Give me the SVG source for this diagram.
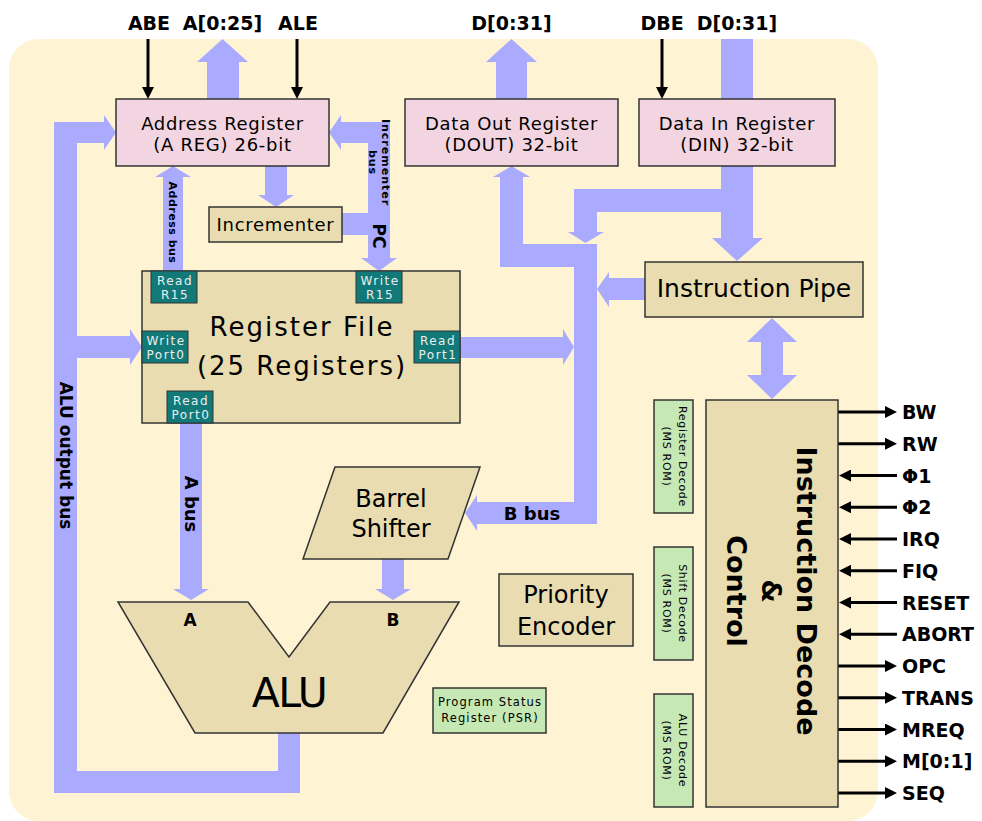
<svg xmlns="http://www.w3.org/2000/svg" width="982" height="821" viewBox="0 0 982 821">
<style>
text{font-family:"DejaVu Sans","Liberation Sans",sans-serif;fill:#000}
.bus{fill:#aaaaff}
.box{stroke:#333;stroke-width:1.5}
.pink{fill:#f3d5e1}
.tan{fill:#e8dcb0}
.green{fill:#c6e8b4}
.teal{fill:#117a78;stroke:#333;stroke-width:1}
.lbl{font-size:18px;letter-spacing:0.7px;text-anchor:middle}
.big{font-size:24px;text-anchor:middle}
.pin{font-size:12px;letter-spacing:1.5px;text-anchor:middle;fill:#eeeeee}
.sig{font-size:19px;font-weight:bold}
.top{font-size:19px;font-weight:bold;text-anchor:middle}
.small{font-size:11px;letter-spacing:0.7px;text-anchor:middle}
.psr{font-size:11.5px;letter-spacing:1.1px;text-anchor:middle}
.busl{font-weight:bold;text-anchor:middle}
.wire{stroke:#000;stroke-width:3;fill:none;marker-end:url(#ah)}
</style>
<defs>
<marker id="ah" viewBox="0 0 12 12" refX="0" refY="6" markerWidth="12" markerHeight="12" markerUnits="userSpaceOnUse" orient="auto">
<path d="M0,0 L12,6 L0,12 z" fill="#000"/>
</marker>
</defs>
<rect x="9" y="39" width="869" height="782" rx="30" fill="#fef4d4"/>

<g id="connectors">
<polygon class="bus" points="207,99 207,62 197,62 222.5,39 248,62 239,62 239,99"/>
<polygon class="bus" points="496,99 496,62 486,62 511.5,39 537,62 527,62 527,99"/>
<rect class="bus" x="721" y="39" width="32" height="60"/>
<polygon class="bus" points="265,166 287,166 287,195 294,195 276,207 258,195 265,195"/>
<polygon class="bus" points="329,132.5 341,115 341,122 390,122 390,258 397,258 379,271 361,258 368,258 368,235 342,235 342,213 368,213 368,143 341,143 341,150"/>
<polygon class="bus" points="163,271 163,177 155,177 173,166 191,177 183,177 183,271"/>
<polygon class="bus" points="116,132.5 104,115 104,122 54,122 54,793 300,793 300,733 278,733 278,771 77,771 77,358 130,358 130,365 142,347 130,329 130,336 77,336 77,143 104,143 104,150"/>
<polygon class="bus" points="180,423 202,423 202,589 209,589 191,600 173,589 180,589"/>
<polygon class="bus" points="382,559 404,559 404,589 411,589 393,600 375,589 382,589"/>
<polygon class="bus" points="511.5,166 530,177 523,177 523,244 597,244 597,524 477,524 477,531 465,513 477,495 477,502 574,502 574,267 500,267 500,177 493,177"/>
<polygon class="bus" points="721,166 753,166 753,238 763,238 737,261 712,238 721,238 721,212 597,212 597,232 604,232 585.5,243 568,232 574,232 574,189 721,189"/>
<polygon class="bus" points="645,278 645,300 609,300 609,307 597,289 609,272 609,278"/>
<polygon class="bus" points="460,337 563,337 563,329 574,347 563,365 563,358 460,358"/>
<polygon class="bus" points="772,318 797,342 783,342 783,375 797,375 772,399 747,375 761,375 761,342 747,342"/>
<line class="wire" x1="148" y1="39" x2="148" y2="87"/>
<line class="wire" x1="297" y1="39" x2="297" y2="87"/>
<line class="wire" x1="662" y1="39" x2="662" y2="87"/>
<line class="wire" x1="838" y1="412" x2="885" y2="412"/>
<line class="wire" x1="838" y1="443.75" x2="885" y2="443.75"/>
<line class="wire" x1="897" y1="475.5" x2="851" y2="475.5"/>
<line class="wire" x1="897" y1="507.25" x2="851" y2="507.25"/>
<line class="wire" x1="897" y1="539" x2="851" y2="539"/>
<line class="wire" x1="897" y1="570.75" x2="851" y2="570.75"/>
<line class="wire" x1="897" y1="602.5" x2="851" y2="602.5"/>
<line class="wire" x1="897" y1="634.25" x2="851" y2="634.25"/>
<line class="wire" x1="838" y1="666" x2="885" y2="666"/>
<line class="wire" x1="838" y1="697.75" x2="885" y2="697.75"/>
<line class="wire" x1="838" y1="729.5" x2="885" y2="729.5"/>
<line class="wire" x1="838" y1="761.25" x2="885" y2="761.25"/>
<line class="wire" x1="838" y1="793" x2="885" y2="793"/>
<text class="busl" font-size="11" letter-spacing="1" transform="translate(382,162.5) rotate(90)">Incrementer</text>
<text class="busl" font-size="11" letter-spacing="1" transform="translate(369,162.5) rotate(90)">bus</text>
<text class="busl" font-size="17" transform="translate(373,236) rotate(90)">PC</text>
<text class="busl" font-size="11" letter-spacing="0.5" transform="translate(168.5,222.5) rotate(90)">Address bus</text>
<text class="busl" font-size="17" transform="translate(59.5,455.5) rotate(90)">ALU output bus</text>
<text class="busl" font-size="18" transform="translate(185,504) rotate(90)">A bus</text>
<text class="busl" font-size="18" x="532" y="520">B bus</text>
</g>

<g id="top-labels">
<text class="top" x="149" y="30">ABE</text>
<text class="top" x="222.5" y="30">A[0:25]</text>
<text class="top" x="298" y="30">ALE</text>
<text class="top" x="511.5" y="30">D[0:31]</text>
<text class="top" x="662" y="30">DBE</text>
<text class="top" x="737" y="30">D[0:31]</text>
</g>

<g id="address-register">
<rect class="box pink" x="116" y="99" width="213" height="67"/>
<text class="lbl" x="222.5" y="130">Address Register</text>
<text class="lbl" x="222.5" y="151">(A REG) 26-bit</text>
</g>

<g id="data-out-register">
<rect class="box pink" x="405" y="99" width="213" height="67"/>
<text class="lbl" x="511.5" y="130">Data Out Register</text>
<text class="lbl" x="511.5" y="151">(DOUT) 32-bit</text>
</g>

<g id="data-in-register">
<rect class="box pink" x="639" y="99" width="196" height="67"/>
<text class="lbl" x="737" y="130">Data In Register</text>
<text class="lbl" x="737" y="151">(DIN) 32-bit</text>
</g>

<g id="incrementer">
<rect class="box tan" x="209" y="207" width="133" height="35"/>
<text class="lbl" x="275.5" y="231">Incrementer</text>
</g>

<g id="instruction-pipe">
<rect class="box tan" x="645" y="262" width="218" height="55"/>
<text font-size="25" text-anchor="middle" x="754" y="297">Instruction Pipe</text>
</g>

<g id="register-file">
<rect class="box tan" x="142" y="271" width="318" height="152"/>
<text font-size="26" letter-spacing="2" text-anchor="middle" x="302" y="336">Register File</text>
<text font-size="26" letter-spacing="2" text-anchor="middle" x="302" y="375">(25 Registers)</text>
</g>
<g id="read-r15">
<rect class="teal" x="151" y="271" width="46" height="32"/>
<text class="pin" x="175" y="285">Read</text>
<text class="pin" x="175" y="299">R15</text>
</g>
<g id="write-r15">
<rect class="teal" x="356" y="271" width="46" height="32"/>
<text class="pin" x="380" y="285">Write</text>
<text class="pin" x="380" y="299">R15</text>
</g>
<g id="write-port0">
<rect class="teal" x="142" y="331" width="46" height="32"/>
<text class="pin" x="166" y="345">Write</text>
<text class="pin" x="166" y="359">Port0</text>
</g>
<g id="read-port1">
<rect class="teal" x="414" y="331" width="46" height="32"/>
<text class="pin" x="438" y="345">Read</text>
<text class="pin" x="438" y="359">Port1</text>
</g>
<g id="read-port0">
<rect class="teal" x="167" y="391" width="46" height="32"/>
<text class="pin" x="191" y="405">Read</text>
<text class="pin" x="191" y="419">Port0</text>
</g>

<g id="barrel-shifter">
<polygon class="box tan" points="335,467 480,467 448,559 303,559"/>
<text class="big" x="391" y="507">Barrel</text>
<text class="big" x="391" y="537">Shifter</text>
</g>

<g id="alu">
<polygon class="box tan" points="118,602 248,602 289,657 330,602 459,602 383,733 195,733"/>
<text font-size="17" font-weight="bold" text-anchor="middle" x="190" y="626">A</text>
<text font-size="17" font-weight="bold" text-anchor="middle" x="393" y="626">B</text>
<text font-size="41" letter-spacing="-1.5" text-anchor="middle" x="289" y="707">ALU</text>
</g>

<g id="priority-encoder">
<rect class="box tan" x="499" y="574" width="134" height="72"/>
<text class="big" x="566" y="603">Priority</text>
<text class="big" x="566" y="635">Encoder</text>
</g>

<g id="psr">
<rect class="box green" x="433" y="688" width="113" height="45"/>
<text class="psr" x="490" y="706">Program Status</text>
<text class="psr" x="490" y="722">Register (PSR)</text>
</g>

<g id="register-decode">
<rect class="box green" x="654" y="400" width="39" height="113"/>
<text class="small" transform="translate(679,456.5) rotate(90)">Register Decode</text>
<text class="small" transform="translate(663,456.5) rotate(90)">(MS ROM)</text>
</g>
<g id="shift-decode">
<rect class="box green" x="654" y="547" width="39" height="113"/>
<text class="small" transform="translate(679,603.5) rotate(90)">Shift Decode</text>
<text class="small" transform="translate(663,603.5) rotate(90)">(MS ROM)</text>
</g>
<g id="alu-decode">
<rect class="box green" x="654" y="694" width="39" height="113"/>
<text class="small" transform="translate(679,750.5) rotate(90)">ALU Decode</text>
<text class="small" transform="translate(663,750.5) rotate(90)">(MS ROM)</text>
</g>

<g id="instruction-decode">
<rect class="box tan" x="706" y="400" width="132" height="407"/>
<text font-size="27" font-weight="bold" text-anchor="middle" transform="translate(797,591) rotate(90)">Instruction Decode</text>
<text font-size="27" font-weight="bold" text-anchor="middle" transform="translate(762,591) rotate(90)">&amp;</text>
<text font-size="27" font-weight="bold" text-anchor="middle" transform="translate(727,591) rotate(90)">Control</text>
</g>

<g id="signals">
<text class="sig" x="902" y="419">BW</text>
<text class="sig" x="902" y="450.75">RW</text>
<text class="sig" x="902" y="482.5">Φ1</text>
<text class="sig" x="902" y="514.25">Φ2</text>
<text class="sig" x="902" y="546">IRQ</text>
<text class="sig" x="902" y="577.75">FIQ</text>
<text class="sig" x="902" y="609.5">RESET</text>
<text class="sig" x="902" y="641.25">ABORT</text>
<text class="sig" x="902" y="673">OPC</text>
<text class="sig" x="902" y="704.75">TRANS</text>
<text class="sig" x="902" y="736.5">MREQ</text>
<text class="sig" x="902" y="768.25">M[0:1]</text>
<text class="sig" x="902" y="800">SEQ</text>
</g>
</svg>
